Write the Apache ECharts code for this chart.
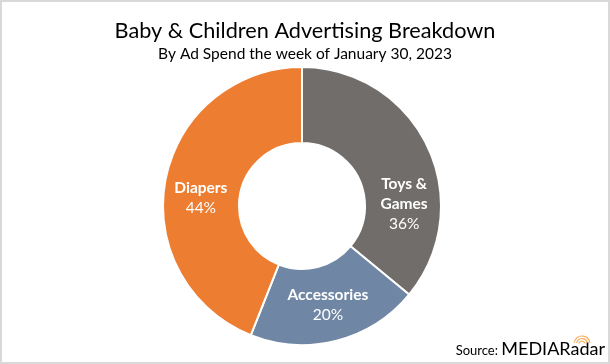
<!DOCTYPE html>
<html><head><meta charset="utf-8">
<script src="https://cdn.jsdelivr.net/npm/echarts@6/dist/echarts.min.js"></script>
<style>
html,body{margin:0;padding:0;background:#fff;}
#frame{width:610px;height:364px;box-sizing:border-box;border:2px solid #d9d9d9;position:relative;background:#fff;}
#chart{position:absolute;left:-2px;top:-2px;width:610px;height:364px;}
</style></head>
<body>
<div id="frame"><div id="chart"></div></div>
<script>
const titleText = "Baby & Children Advertising Breakdown";
const subtitleText = "By Ad Spend the week of January 30, 2023";
const categories = ["Toys &\nGames", "Accessories", "Diapers"];
const values = [36, 20, 44];
const colors = ["#716d6b", "#6f87a5", "#ed7d31"];
const labelShift = [[8, 42], [0, -2], [1, 11]];
const FONT = "Lato";

const chart = echarts.init(document.getElementById('chart'), null, {renderer: 'canvas'});
const radarArcs = [3, 5.5, 8].map(r => ({
  type: 'arc',
  shape: {cx: 582, cy: 344, r: r, startAngle: -Math.PI * 0.95, endAngle: -Math.PI * 0.05, clockwise: true},
  style: {stroke: '#f7a24a', lineWidth: 1.2, fill: null, opacity: 0.85},
  z: 10
}));
chart.setOption({
  animation: false,
  backgroundColor: 'transparent',
  title: [{
    text: titleText, left: 'center', top: 15,
    textStyle: {fontFamily: FONT, fontSize: 21.7, fontWeight: 'normal', color: '#000'}
  }, {
    text: subtitleText, left: 'center', top: 41,
    textStyle: {fontFamily: FONT, fontSize: 15.5, fontWeight: 'normal', color: '#000'}
  }],
  series: [{
    type: 'pie',
    center: [302, 206],
    radius: [63, 139],
    startAngle: 90,
    clockwise: true,
    silent: true,
    itemStyle: {borderColor: '#fff', borderWidth: 2},
    label: {
      show: true, position: 'inside',
      formatter: p => p.name.split('\n').map(s => '{n|' + s + '}').join('\n') + '\n{p|' + p.value + '%}',
      rich: {
        n: {fontFamily: FONT, fontSize: 15.5, fontWeight: 'bold', color: '#fff', lineHeight: 20},
        p: {fontFamily: FONT, fontSize: 15.5, fontWeight: 'normal', color: '#fff', lineHeight: 20}
      }
    },
    labelLayout: p => ({dx: labelShift[p.dataIndex][0], dy: labelShift[p.dataIndex][1]}),
    labelLine: {show: false},
    data: categories.map((c, i) => ({name: c, value: values[i], itemStyle: {color: colors[i]}}))
  }],
  graphic: [{
    type: 'text', right: 5, top: 340,
    style: {
      text: '{s|Source: }{m|MEDIA}{r|Radar}',
      rich: {
        s: {fontFamily: FONT, fontSize: 13, color: '#7f7f7f', padding: [3, 0, 0, 0]},
        m: {fontFamily: FONT, fontSize: 18, fontWeight: 'normal', color: '#f7941d'},
        r: {fontFamily: FONT, fontSize: 18, color: '#7b7a70'}
      }
    },
    z: 5
  }].concat(radarArcs)
});
</script>
</body></html>
